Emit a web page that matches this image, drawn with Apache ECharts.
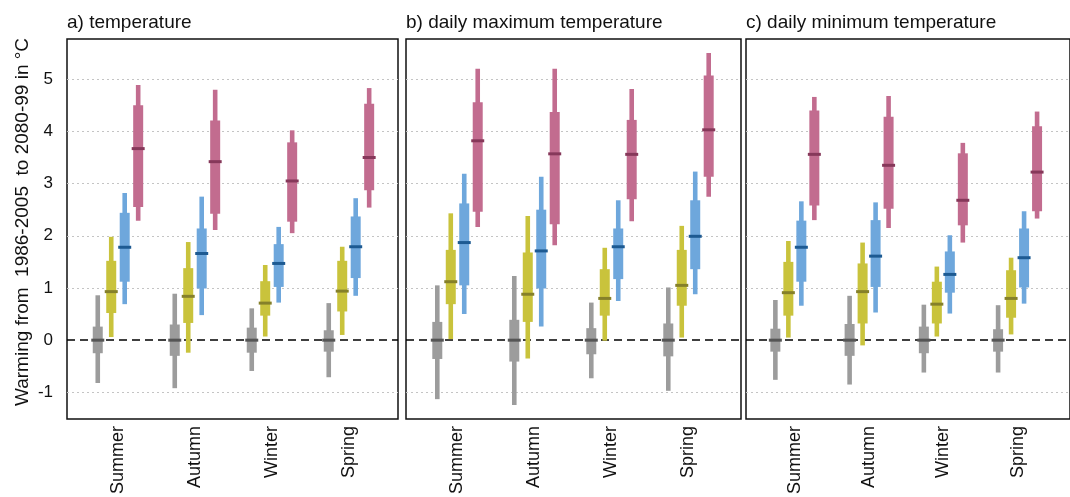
<!DOCTYPE html>
<html>
<head>
<meta charset="utf-8">
<script src="https://cdn.jsdelivr.net/npm/echarts@6/dist/echarts.min.js"></script>
<style>
html,body{margin:0;padding:0;background:#fff;}
#chart{width:1070px;height:497px;}
</style>
</head>
<body>
<div id="chart"></div>
<script>
// Categories
const seasons = ['Summer', 'Autumn', 'Winter', 'Spring'];
const panelTitles = ['a) temperature', 'b) daily maximum temperature', 'c) daily minimum temperature'];
const yTicks = [-1, 0, 1, 2, 3, 4, 5];
const yName = 'Warming from  1986-2005  to 2080-99 in \u00B0C';

// Each entry: [whiskerLow, boxLow, median, boxHigh, whiskerHigh] for Summer, Autumn, Winter, Spring
// a) temperature
const tasGrey    = [[-0.82,-0.25,0,0.26,0.86],[-0.92,-0.30,0,0.30,0.89],[-0.59,-0.24,0,0.24,0.61],[-0.71,-0.22,0,0.19,0.71]];
const tasYellow  = [[0.06,0.52,0.93,1.52,1.98],[-0.24,0.33,0.84,1.38,1.88],[0.07,0.47,0.71,1.13,1.44],[0.10,0.55,0.94,1.52,1.79]];
const tasBlue    = [[0.69,1.12,1.78,2.44,2.82],[0.48,0.99,1.66,2.14,2.75],[0.72,1.02,1.47,1.84,2.17],[0.85,1.19,1.79,2.37,2.72]];
const tasMagenta = [[2.29,2.55,3.67,4.50,4.89],[2.11,2.42,3.42,4.21,4.80],[2.05,2.27,3.05,3.79,4.02],[2.54,2.87,3.50,4.53,4.83]];
// b) daily maximum temperature
const tmaxGrey    = [[-1.13,-0.36,0,0.35,1.05],[-1.24,-0.41,0,0.39,1.23],[-0.73,-0.27,0,0.23,0.72],[-0.97,-0.31,0,0.32,1.01]];
const tmaxYellow  = [[0.02,0.69,1.12,1.73,2.43],[-0.35,0.35,0.88,1.68,2.38],[-0.01,0.47,0.80,1.36,1.77],[0.05,0.66,1.05,1.73,2.19]];
const tmaxBlue    = [[0.50,1.05,1.87,2.62,3.19],[0.26,0.99,1.71,2.50,3.13],[0.75,1.17,1.79,2.14,2.68],[0.88,1.36,1.99,2.68,3.23]];
const tmaxMagenta = [[2.17,2.46,3.82,4.56,5.20],[1.82,2.22,3.57,4.37,5.20],[2.28,2.70,3.56,4.22,4.81],[2.75,3.13,4.03,5.07,5.50]];
// c) daily minimum temperature
const tminGrey    = [[-0.76,-0.22,0,0.22,0.77],[-0.85,-0.30,0,0.31,0.85],[-0.62,-0.25,0,0.26,0.68],[-0.62,-0.22,0,0.21,0.67]];
const tminYellow  = [[0.05,0.47,0.91,1.50,1.90],[-0.10,0.32,0.93,1.47,1.87],[0.07,0.32,0.69,1.12,1.41],[0.11,0.43,0.80,1.34,1.58]];
const tminBlue    = [[0.66,1.12,1.78,2.29,2.66],[0.53,1.02,1.61,2.30,2.64],[0.51,0.91,1.26,1.70,2.01],[0.70,1.01,1.58,2.14,2.47]];
const tminMagenta = [[2.30,2.58,3.56,4.40,4.66],[2.15,2.52,3.35,4.28,4.68],[1.87,2.20,2.68,3.58,3.78],[2.33,2.47,3.22,4.10,4.38]];

const panels = [
  [tasGrey, tasYellow, tasBlue, tasMagenta],
  [tmaxGrey, tmaxYellow, tmaxBlue, tmaxMagenta],
  [tminGrey, tminYellow, tminBlue, tminMagenta]
];

// styles
const boxColors = ['#9c9c9c', '#c9c33c', '#6ea7dc', '#c26c8f'];
const medColors = ['#555555', '#85802a', '#1d5a92', '#86385a'];
const FONT = 'Liberation Sans, Arial, sans-serif';
const OFF = 0.175;
const gridPos = [
  {left: 67, width: 331, xmin: 0.338, xmax: 4.637},
  {left: 406, width: 335, xmin: 0.331, xmax: 4.682},
  {left: 746, width: 336, xmin: 0.342, xmax: 4.706}
];
const YMIN = -1.51, YMAX = 5.77;

function renderItem(params, api) {
  const s = api.value(1);
  const xv = api.value(0) + (s - 1.5) * OFF;
  const pLo = api.coord([xv, api.value(2)]);
  const pQ1 = api.coord([xv, api.value(3)]);
  const pMd = api.coord([xv, api.value(4)]);
  const pQ3 = api.coord([xv, api.value(5)]);
  const pHi = api.coord([xv, api.value(6)]);
  const cx = pMd[0];
  const wT = 4.6, wB = 10, wM = 13;
  return {
    type: 'group',
    children: [
      {type: 'rect', shape: {x: cx - wT / 2, y: pHi[1], width: wT, height: pLo[1] - pHi[1]}, style: {fill: boxColors[s]}},
      {type: 'rect', shape: {x: cx - wB / 2, y: pQ3[1], width: wB, height: pQ1[1] - pQ3[1]}, style: {fill: boxColors[s]}},
      {type: 'rect', shape: {x: cx - wM / 2, y: pMd[1] - 1.5, width: wM, height: 3}, style: {fill: medColors[s]}}
    ]
  };
}

const grids = [], xAxes = [], yAxes = [], series = [], titles = [];
panels.forEach((panel, p) => {
  const g = gridPos[p];
  grids.push({left: g.left, width: g.width, top: 39, height: 381, show: true,
    borderColor: '#111', borderWidth: 1.5, backgroundColor: 'rgba(0,0,0,0)', containLabel: false});
  xAxes.push({type: 'value', gridIndex: p, min: g.xmin, max: g.xmax,
    axisLine: {show: false}, axisTick: {show: false}, splitLine: {show: false},
    axisLabel: {show: true, customValues: [1, 2, 3, 4], rotate: 90, margin: 7,
      formatter: v => seasons[Math.round(v) - 1] || '', fontSize: 18, color: '#111', fontFamily: FONT}});
  yAxes.push({type: 'value', gridIndex: p, min: YMIN, max: YMAX,
    axisLine: {show: false}, axisTick: {show: false}, splitLine: {show: false},
    name: p === 0 ? yName : '', nameLocation: 'middle', nameGap: 35, nameRotate: 90,
    nameTextStyle: {fontSize: 19, color: '#111', fontFamily: FONT, padding: [0, 0, 0, 14]},
    axisLabel: {show: p === 0, customValues: yTicks, margin: 14, fontSize: 17, color: '#111', fontFamily: FONT}});
  const data = [];
  panel.forEach((scen, s) => {
    scen.forEach((v, i) => { data.push([i + 1, s, v[0], v[1], v[2], v[3], v[4]]); });
  });
  series.push({type: 'line', xAxisIndex: p, yAxisIndex: p, data: [], silent: true,
    markLine: {silent: true, symbol: 'none', label: {show: false}, animation: false,
      data: yTicks.filter(t => t !== 0).map(t => ({yAxis: t, lineStyle: {type: [2, 3], color: '#c4c4c4', width: 1}}))
        .concat([{yAxis: 0, lineStyle: {type: [8, 5], color: '#000', width: 1.7}}])}});
  series.push({type: 'custom', xAxisIndex: p, yAxisIndex: p, renderItem: renderItem, data: data,
    encode: {x: 0, y: [2, 6]}, z: 5, clip: false, animation: false});
  titles.push({text: panelTitles[p], left: g.left, top: 13, padding: 0,
    textStyle: {fontSize: 19, fontWeight: 'normal', color: '#111', fontFamily: FONT}});
});

const chart = echarts.init(document.getElementById('chart'), null, {renderer: 'canvas'});
chart.setOption({
  animation: false,
  backgroundColor: '#fff',
  title: titles,
  grid: grids,
  xAxis: xAxes,
  yAxis: yAxes,
  series: series
});
</script>
</body>
</html>
